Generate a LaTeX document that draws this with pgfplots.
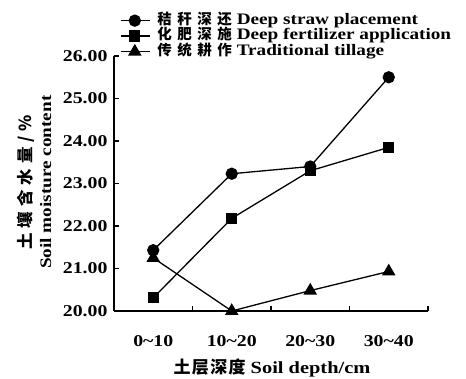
\documentclass[border=0pt]{standalone}
\usepackage{pgfplots}
\pgfplotsset{compat=1.18}
\usepackage{fontspec}
\setmainfont{Liberation Serif}[FakeStretch=1.2]
\newfontfamily\cjk{Noto Sans CJK SC}
\newcommand{\lgcjk}[1]{\hspace{7pt}{\cjk\addfontfeature{LetterSpace=38}\fontsize{14.5}{15}\selectfont\bfseries #1}}
\begin{document}
\begin{tikzpicture}
\begin{axis}[
  scale only axis, width=314pt, height=255pt,
  xmin=0, xmax=4, ymin=20, ymax=26,
  clip=false,
  axis lines*=left,
  axis line style={-, line width=1.3pt},
  every tick/.style={black, line width=1.1pt},
  xtick={0.5,1.5,2.5,3.5},
  xticklabels={0\char`~10,10\char`~20,20\char`~30,30\char`~40},
  major x tick style={draw=none},
  minor xtick={1,2,3,4},
  minor tick length=5pt,
  ytick={20,21,22,23,24,25,26},
  major tick length=5pt,
  tick align=inside,
  /pgf/number format/fixed, /pgf/number format/fixed zerofill, /pgf/number format/precision=2,
  /pgf/number format/assume math mode=true,
  ticklabel style={font=\fontsize{16.5}{18}\selectfont\bfseries},
  xticklabel style={yshift=-21pt},
  yticklabel style={xshift=-3pt},
  xlabel={{\cjk\addfontfeature{LetterSpace=8}\bfseries 土层深度} Soil depth/cm},
  xlabel style={font=\fontsize{17}{18}\selectfont\bfseries, at={(rel axis cs:0.503,-0.224)}, anchor=center},
  ylabel={{\cjk\addfontfeature{LetterSpace=30}\fontsize{16.5}{18}\selectfont\bfseries 土壤含水量/\%}\\Soil moisture content},
  ylabel style={font=\fontsize{16}{20}\selectfont\bfseries, align=center, at={(rel axis cs:-0.255,0.505)}, anchor=center, rotate=0},
  legend style={at={(rel axis cs:0.019,1.165)}, anchor=north west, draw=none, fill=none,
    font=\fontsize{16}{17}\selectfont\bfseries, row sep=2.5pt, inner sep=0pt,
    nodes={inner sep=0pt, text height=10pt, text depth=3pt}},
  legend cell align=left,
  legend image code/.code={\draw[mark repeat=2,mark phase=2,#1] plot coordinates {(0pt,0pt) (14pt,0pt) (29pt,0pt)};},
  every axis plot/.append style={black, line width=1.3pt},
]
\addplot[mark=*, mark size=5.5pt] coordinates {(0.5,21.43) (1.5,23.23) (2.5,23.40) (3.5,25.50)};
\addlegendentry{\lgcjk{秸秆深还} Deep straw placement}
\addplot[mark=square*, mark size=5pt] coordinates {(0.5,20.31) (1.5,22.18) (2.5,23.30) (3.5,23.85)};
\addlegendentry{\lgcjk{化肥深施} Deep fertilizer application}
\addplot[mark=triangle*, mark size=6.5pt] coordinates {(0.5,21.25) (1.5,20.00) (2.5,20.48) (3.5,20.93)};
\addlegendentry{\lgcjk{传统耕作} Traditional tillage}
\end{axis}
\pgfresetboundingbox
\path (-114pt,-67pt) rectangle (352pt,311pt);
\end{tikzpicture}
\end{document}
